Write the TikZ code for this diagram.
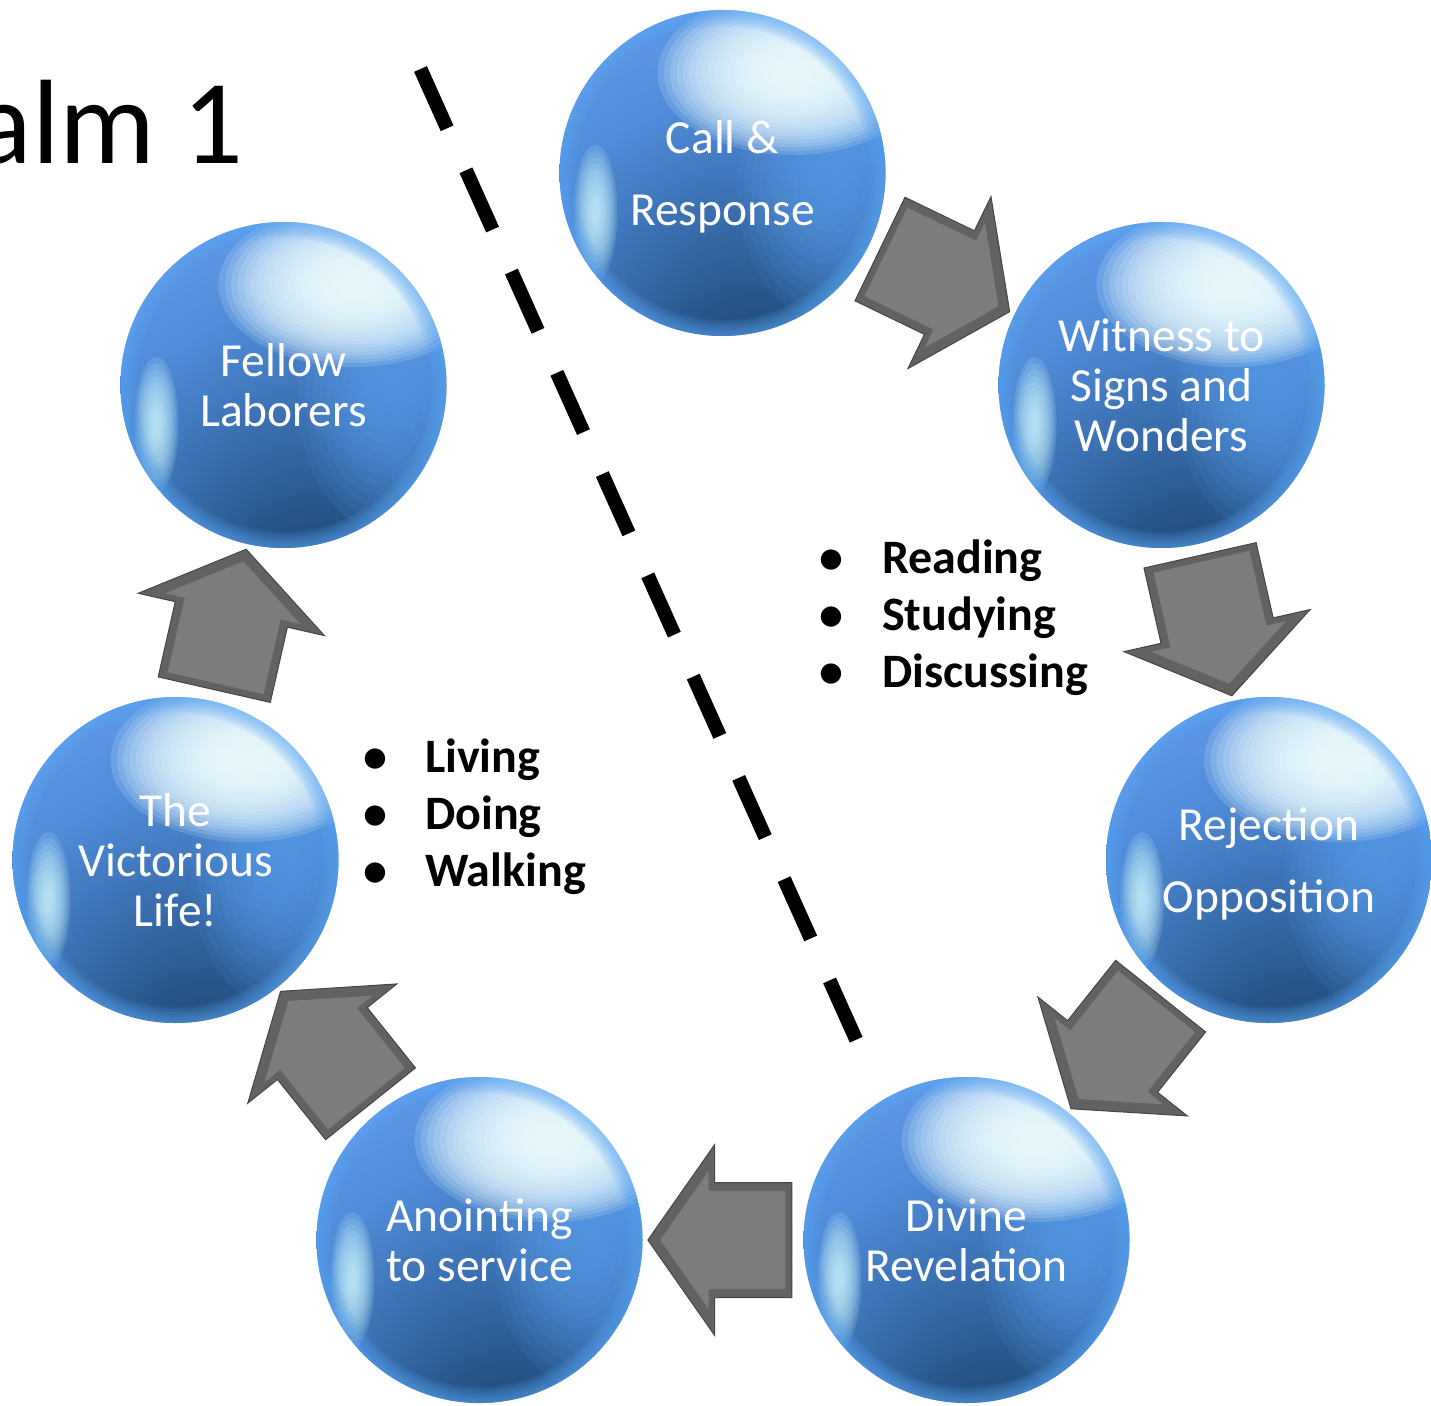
\documentclass[tikz,border=0pt]{standalone}
\usepackage{fontspec}
\setmainfont{Carlito}
\usetikzlibrary{arrows.meta,positioning,calc,shapes.arrows}
\definecolor{SphereDeep}{RGB}{26,54,90}
\definecolor{SphereDark}{RGB}{40,86,140}
\definecolor{SphereMid}{RGB}{80,140,218}
\definecolor{SphereLight}{RGB}{112,166,246}
\definecolor{SpherePale}{RGB}{132,168,248}
\definecolor{SphereShine}{RGB}{240,255,255}
\definecolor{SphereGlint}{RGB}{210,252,255}
\definecolor{SphereSide}{RGB}{100,172,252}
\definecolor{SphereRim}{RGB}{90,168,246}
\definecolor{ArrowFace}{RGB}{124,124,124}
\definecolor{ArrowEdge}{RGB}{98,98,98}
\definecolor{ArrowDark}{RGB}{70,70,70}

\pgfdeclareradialshading{sphereball}{\pgfpoint{6bp}{-38bp}}{%
  color(0bp)=(SphereDeep); color(14bp)=(SphereDark); color(36bp)=(SphereMid);
  color(58bp)=(SphereLight); color(80bp)=(SpherePale); color(100bp)=(SpherePale)}

\tikzset{
  sphere/.style={circle, minimum size=326pt, inner sep=0pt, shading=sphereball,
    text=white, align=center, font=\fontsize{47.5}{50}\selectfont,
    path picture={
      % brighter blue on the right
      \foreach \k in {1,...,10}
        \fill[SphereSide, fill opacity=0.07,
          rotate around={-20:($(path picture bounding box.center)+(100,15)$)}]
          ($(path picture bounding box.center)+(100,15)$)
          ellipse [x radius={85-7*(\k-1)}, y radius={130-11*(\k-1)}];
      % soft shine, upper right
      \foreach \k in {1,...,20}
        \fill[SphereShine, fill opacity=0.15,
          rotate around={-32:($(path picture bounding box.center)+(70,-100)$)}]
          ($(path picture bounding box.center)+(70,-100)$)
          ellipse [x radius={135-6.3*(\k-1)}, y radius={82-3.8*(\k-1)}];
      % glint on the left
      \foreach \k in {1,...,10}
        \fill[SphereGlint, fill opacity=0.14,
          rotate around={22:($(path picture bounding box.center)+(-127,40)$)}]
          ($(path picture bounding box.center)+(-127,40)$)
          ellipse [x radius={22-2*(\k-1)}, y radius={68-6.2*(\k-1)}];
      % light rim
      \foreach \k in {1,...,8}
        \draw[SphereRim, draw opacity=0.1, line width={4*\k}]
          (path picture bounding box.center) circle [radius=163];
    }},
  widegap/.style={font=\fontsize{47.5}{72}\selectfont, text depth=0pt},
  arrowedge/.style={single arrow, fill=ArrowEdge, draw=ArrowDark, line width=1pt,
    inner xsep=0pt, inner ysep=57pt,
    minimum height=144pt, single arrow head extend=38pt, single arrow tip angle=110},
  arrowface/.style={single arrow, fill=ArrowFace, inner xsep=0pt, inner ysep=49pt,
    minimum height=125pt, single arrow head extend=20pt, single arrow tip angle=110},
  bulletlist/.style={anchor=base west, inner sep=0pt, font=\fontsize{48}{57}\selectfont\bfseries}
}

\begin{document}
\begin{tikzpicture}[x=1pt,y=-1pt]
  \useasboundingbox (0,0) rectangle (1431,1405);

  % title, cut off at the left edge
  \node[anchor=base east, inner sep=0pt, font=\fontsize{120}{120}\selectfont] (title) at (244,163) {alm 1};

  % dashed divider
  \coordinate (divtop) at (420.5,69);
  \coordinate (divbot) at (859.3,1046.7);
  \draw[line width=14pt, dash pattern=on 65pt off 46pt] (divtop) -- (divbot);

  % the cycle
  \node[sphere, widegap] (call) at (722.5,173) {Call \&\\Response};
  \node[sphere] (witness) at (1161.5,385) {Witness to\\Signs and\\Wonders};
  \node[sphere, widegap] (reject) at (1269,860) {Rejection\\Opposition};
  \node[sphere] (divine) at (966.5,1240) {Divine\\Revelation};
  \node[sphere] (anoint) at (479.5,1240) {Anointing\\to service};
  \node[sphere] (victory) at (175.5,860) {The\\Victorious\\Life!};
  \node[sphere] (fellow) at (283.5,385) {Fellow\\Laborers};

  \foreach \a/\b [count=\i] in {call/witness,witness/reject,reject/divine,divine/anoint,anoint/victory,victory/fellow}
    \path let \p1=($(\b)-(\a)$), \n1={atan2(\y1,\x1)} in
      node[arrowedge, rotate=\n1] (arr\i) at ($($(\a)!0.5!(\b)$)!17pt!(\a)$) {}
      node[arrowface, rotate=\n1] (face\i) at (arr\i) {};

  % lists
  \node[bulletlist] (readlist) at (819,573) {\begin{tabular}[t]{@{}p{63pt}@{}l@{}}
    \textbullet & Reading\\ \textbullet & Studying\\ \textbullet & Discussing
  \end{tabular}};
  \node[bulletlist] (livelist) at (363,772) {\begin{tabular}[t]{@{}p{62pt}@{}l@{}}
    \textbullet & Living\\ \textbullet & Doing\\ \textbullet & Walking
  \end{tabular}};
\end{tikzpicture}
\end{document}
